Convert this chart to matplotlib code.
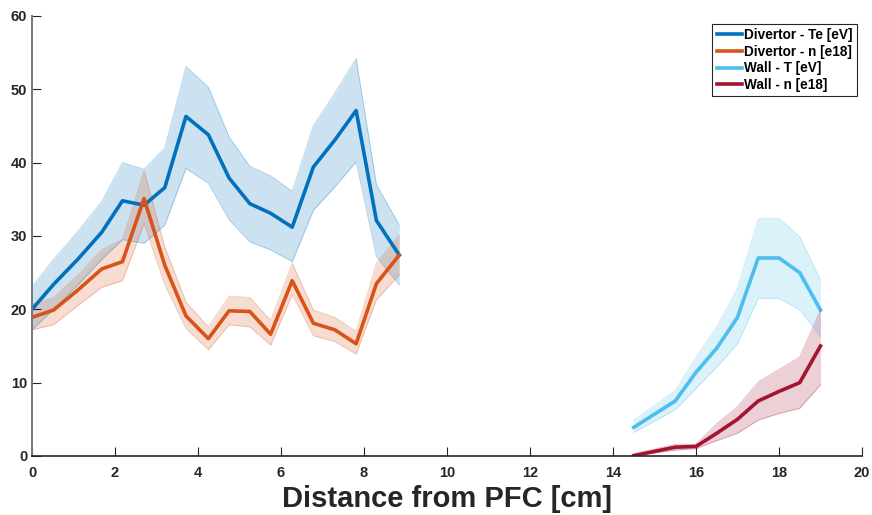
import numpy as np
from matplotlib import pyplot as plt

# Divertor probes
div_x = [0, 0.52, 1.1, 1.68, 2.18, 2.7, 3.2, 3.71, 4.25, 4.75, 5.25, 5.75, 6.27, 6.78, 7.3, 7.81, 8.3, 8.85]
div_te = [20.0, 23.4, 26.8, 30.5, 34.8, 34.2, 36.6, 46.3, 43.8, 37.9, 34.4, 33.1, 31.2, 39.4, 43.1, 47.1, 32.1, 27.4]
div_te_hi = [23.1, 26.8, 30.6, 34.7, 40.0, 39.1, 42.0, 53.1, 50.3, 43.5, 39.5, 38.2, 36.1, 45.0, 49.5, 54.2, 37.0, 31.5]
div_te_lo = [17.2, 20.0, 23.3, 26.8, 29.5, 29.0, 31.5, 39.2, 37.2, 32.2, 29.2, 28.1, 26.5, 33.5, 36.7, 40.1, 27.2, 23.3]
div_n = [18.9, 19.9, 22.6, 25.5, 26.5, 35.1, 26.0, 19.1, 16.0, 19.8, 19.7, 16.6, 23.9, 18.1, 17.2, 15.3, 23.5, 27.4]
div_n_hi = [20.7, 21.6, 24.6, 28.1, 29.5, 38.9, 28.5, 21.0, 17.6, 21.8, 21.6, 18.5, 26.3, 19.9, 18.9, 17.0, 26.3, 30.1]
div_n_lo = [17.2, 17.9, 20.5, 23.0, 23.9, 31.7, 23.3, 17.4, 14.5, 17.9, 17.6, 15.1, 22.0, 16.4, 15.6, 13.9, 21.3, 24.7]

# Wall probes
wall_x = [14.5, 15.5, 16, 16.5, 17, 17.5, 18, 18.5, 19]
wall_t = [3.9, 7.5, 11.4, 14.7, 18.9, 27.0, 27.0, 25.0, 19.9]
wall_t_hi = [4.9, 8.9, 13.5, 17.6, 22.9, 32.4, 32.4, 29.9, 24.0]
wall_t_lo = [3.2, 6.3, 9.2, 12.1, 15.3, 21.5, 21.5, 19.9, 16.3]
wall_n = [0.05, 1.2, 1.3, 3.1, 5.0, 7.5, 8.8, 10.0, 15.0]
wall_n_hi = [0.3, 1.6, 1.6, 4.4, 6.7, 10.1, 11.8, 13.5, 19.9]
wall_n_lo = [0.0, 0.8, 1.0, 2.1, 3.1, 4.9, 5.8, 6.5, 9.7]

labels = ['Divertor - Te [eV]', 'Divertor - n [e18]', 'Wall - T [eV]', 'Wall - n [e18]']
colors = ['#0072BD', '#D95319', '#4DBEEE', '#A2142F']

plt.rcParams['font.family'] = ['Liberation Sans', 'DejaVu Sans']
plt.rcParams['font.weight'] = 'bold'

fig = plt.figure(figsize=(8.72, 5.15), dpi=100)
ax = fig.add_axes([0.0367, 0.1146, 0.9518, 0.8544])

series = [
    (div_x, div_te, div_te_lo, div_te_hi),
    (div_x, div_n, div_n_lo, div_n_hi),
    (wall_x, wall_t, wall_t_lo, wall_t_hi),
    (wall_x, wall_n, wall_n_lo, wall_n_hi),
]
lines = []
for i in range(len(series)):
    x, y, lo, hi = series[i]
    # полоса погрешности + тонкая кромка
    ax.fill_between(x, lo, hi, color=colors[i], alpha=0.2, lw=0)
    ax.plot(x, hi, color=colors[i], alpha=0.3, lw=0.6)
    ax.plot(x, lo, color=colors[i], alpha=0.3, lw=0.6)
    ln, = ax.plot(x, y, color=colors[i], lw=2.6, label=labels[i])
    lines.append(ln)

ax.set_xlim(0, 20)
ax.set_ylim(0, 60)
ax.set_xticks(np.arange(0, 21, 2))
ax.set_yticks(np.arange(0, 61, 10))
ax.spines['top'].set_visible(False)
ax.spines['right'].set_visible(False)
ax.spines['bottom'].set_color('#262626')
ax.spines['left'].set_color('#777777')
ax.spines['bottom'].set_linewidth(1.2)
ax.spines['left'].set_linewidth(1.4)
ax.tick_params(direction='in', length=6.5, width=0.8, labelsize=10.5, colors='#262626')
ax.tick_params(axis='x', pad=7)
ax.tick_params(axis='y', pad=3.5)
for t in ax.get_xticklabels() + ax.get_yticklabels():
    t.set_fontweight('bold')

ax.set_xlabel('Distance from PFC [cm]', fontsize=21, fontweight='bold', color='#262626', labelpad=4)

leg = ax.legend(handles=lines, loc='upper right', bbox_to_anchor=(0.994, 0.982), fontsize=9.8,
                frameon=True, fancybox=False, framealpha=1, edgecolor='#262626',
                handlelength=1.9, handletextpad=0.15, labelspacing=0.2, borderpad=0.3, borderaxespad=0)
leg.get_frame().set_linewidth(0.8)
for t in leg.get_texts():
    t.set_fontweight('bold')

plt.savefig('out.png', dpi=100)
